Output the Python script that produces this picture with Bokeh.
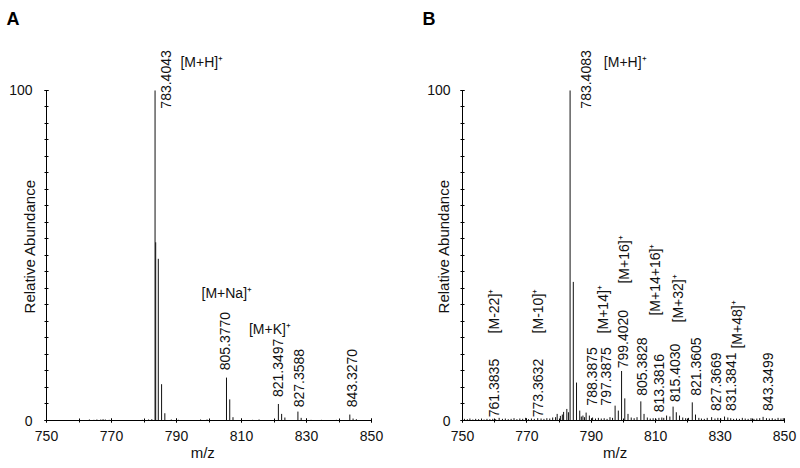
from math import pi
from bokeh.plotting import figure
from bokeh.models import Range1d, FixedTicker, ColumnDataSource
from bokeh.layouts import row
from bokeh.embed import file_html
from bokeh.resources import INLINE
from bokeh.core.properties import value

FONT = "Liberation Sans"
NB = "\u00a0"

# ---------------- Panel A data ----------------
a_peak_mz = [783.40, 783.60, 784.40, 785.41, 786.41,
             805.38, 806.38, 807.38,
             821.35, 822.35, 823.35,
             827.36, 828.36,
             843.33, 844.33, 845.33]
a_peak_int = [100, 54, 49, 11, 2.2,
              13, 6.4, 1.0,
              5.0, 2.0, 0.9,
              2.7, 0.8,
              1.8, 0.6, 0.4]
a_noise_mz = [763.2, 764.6, 765.5, 766.7, 767.4, 768.1, 769.3, 779.5, 781.4, 782.4,
              788.4, 790.6, 797.4, 799.4, 813.4, 815.4, 831.4, 834.6, 839.2]
a_noise_int = [0.3, 0.2, 0.3, 0.3, 0.4, 0.3, 0.2, 0.2, 0.3, 0.4,
               0.3, 0.2, 0.3, 0.3, 0.2, 0.3, 0.2, 0.2, 0.2]

a_num_text = ["783.4043", "805.3770", "821.3497", "827.3588", "843.3270"]
a_ion_text = ["[M+H]⁺", "[M+Na]⁺", "[M+K]⁺"]

# ---------------- Panel B data ----------------
b_peak_mz = [783.41, 784.41, 785.41, 786.41, 787.40,
             779.40, 780.40, 781.40, 782.40, 782.90,
             761.38, 773.36,
             788.39, 789.40,
             797.39, 798.39, 799.40, 800.40, 801.40,
             805.38, 806.38,
             813.38, 814.40, 815.40, 816.40, 817.40,
             821.36, 822.36,
             827.37, 831.38, 843.35]
b_peak_int = [100, 42, 11.5, 3.0, 1.5,
              2.0, 1.4, 2.6, 3.5, 2.5,
              0.8, 0.7,
              2.4, 1.5,
              4.5, 3.0, 15, 6.7, 2.0,
              5.8, 2.0,
              1.5, 1.2, 4.2, 2.5, 1.5,
              5.5, 1.8,
              1.0, 1.2, 1.1]
b_noise_mz = [750.6, 751.5, 752.3, 753.2, 754.1, 755.0, 755.9, 756.7, 757.6, 758.5,
              759.4, 760.3, 762.4, 763.3, 764.2, 765.1, 766.0, 766.9, 767.8, 768.7,
              769.6, 770.5, 771.4, 772.3, 774.4, 775.3, 776.2, 777.1, 778.0, 778.9,
              781.0, 786.9, 787.9, 790.4, 791.3, 792.2, 793.1, 794.0, 794.9, 795.8,
              796.6, 802.4, 803.3, 804.2, 807.4, 808.3, 809.2, 810.1, 811.0, 811.9,
              812.5, 818.4, 819.3, 820.2, 823.4, 824.2, 825.1, 826.0, 828.4, 829.3,
              830.2, 832.4, 833.3, 834.2, 835.1, 836.0, 836.9, 837.8, 838.7, 839.6,
              840.5, 841.4, 842.3, 844.4, 845.3, 846.2, 847.1, 848.0, 848.9, 849.6]
b_noise_int = [0.5, 0.4, 0.6, 0.3, 0.5, 0.4, 0.6, 0.3, 0.5, 0.4,
               0.5, 0.4, 0.5, 0.6, 0.4, 0.5, 0.7, 0.4, 0.6, 0.5,
               0.8, 0.4, 0.6, 0.5, 0.6, 0.5, 0.7, 0.6, 0.9, 1.0,
               1.8, 1.2, 1.0, 0.9, 0.6, 0.8, 0.6, 0.7, 0.5, 1.0,
               0.8, 0.9, 0.7, 1.0, 0.9, 0.6, 0.7, 0.5, 0.8, 0.9,
               0.8, 0.9, 0.7, 0.8, 0.8, 0.6, 0.5, 0.8, 0.6, 0.8,
               0.6, 0.9, 0.7, 0.5, 0.6, 0.5, 0.8, 0.6, 0.5, 0.7,
               0.5, 0.6, 0.7, 0.7, 0.6, 0.7, 0.5, 0.8, 0.6, 0.7]

b_num_text = ["783.4083", "761.3835", "773.3632", "788.3875", "797.3875",
              "799.4020", "805.3828", "813.3816", "815.4030", "821.3605",
              "827.3669", "831.3841", "843.3499"]
b_ion_text = ["[M+H]⁺", "[M-22]⁺", "[M-10]⁺", "[M+14]⁺", "[M+16]⁺",
              "[M+14+16]⁺", "[M+32]⁺", "[M+48]⁺"]

x_ticks = [750, 770, 790, 810, 830, 850]
x_minor = [750, 760, 770, 780, 790, 800, 810, 820, 830, 840, 850]
y_ticks = [0, 100]
y_minor = [0, 5, 10, 15, 20, 25, 30, 35, 40, 45, 50, 55, 60, 65, 70, 75, 80, 85, 90, 95, 100]

# ---------------- label placement (annotation layout, data units) ----------------
a_num_x = [786.9, 804.9, 821.1, 827.6, 844.1]
a_num_y = [94.5, 15.2, 7.1, 4.0, 4.0]
a_ion_x = [791.2, 797.7, 812.3]
a_ion_y = [108.5, 38.5, 27.8]
a_ion_ang = [0, 0, 0]

b_num_x = [788.2, 759.7, 773.5, 790.1, 794.7, 799.7, 805.8, 811.0, 816.0, 822.4, 828.6, 833.4, 845.0]
b_num_y = [94.5, 1.0, 1.0, 4.5, 4.5, 15.8, 7.5, 2.5, 5.6, 7.5, 2.9, 2.9, 2.9]
b_ion_x = [793.9, 759.9, 773.6, 793.5, 800.0, 809.9, 816.8, 835.4]
b_ion_y = [108.5, 26.4, 26.4, 26.4, 41.5, 31.8, 29.7, 21.8]
b_ion_ang = [0, 90, 90, 90, 90, 90, 90, 90]


def make_panel(letter, title_off, peak_mz, peak_int, noise_mz, noise_int,
               num_text, num_x, num_y, ion_text, ion_x, ion_y, ion_ang,
               bl, br, tick_standoff, ylab_standoff, xlab_pad):
    p = figure(width=400, height=468, x_range=Range1d(750, 850), y_range=Range1d(0, 118.18),
               output_backend="svg", toolbar_location=None,
               min_border_left=bl, min_border_right=br, min_border_top=30, min_border_bottom=48)
    p.outline_line_color = None
    p.grid.visible = False
    p.background_fill_color = "white"
    p.border_fill_color = "white"

    p.title.text = letter
    p.title.align = "left"
    p.title.offset = title_off
    p.title.standoff = 3
    p.title.text_font = FONT
    p.title.text_font_size = "18px"
    p.title.text_font_style = "bold"
    p.title.text_color = "black"

    mz = list(noise_mz) + list(peak_mz)
    it = list(noise_int) + list(peak_int)
    src = ColumnDataSource(dict(x=mz, y0=[0] * len(mz), y1=it))
    p.segment(x0="x", y0="y0", x1="x", y1="y1", source=src, line_color="#111111", line_width=1)

    nsrc = ColumnDataSource(dict(x=num_x, y=num_y, t=num_text))
    p.text(x="x", y="y", text="t", source=nsrc, angle=pi / 2, text_align="left",
           text_baseline="middle", text_font=value(FONT), text_font_size="14px", text_color="#111111")
    isrc = ColumnDataSource(dict(x=ion_x, y=ion_y, t=ion_text, a=[v * pi / 180 for v in ion_ang]))
    p.text(x="x", y="y", text="t", source=isrc, angle="a", text_align="left",
           text_baseline="middle", text_font=value(FONT), text_font_size="14px", text_color="#111111")

    for ax in (p.xaxis[0], p.yaxis[0]):
        ax.axis_line_color = "black"
        ax.major_tick_line_color = "black"
        ax.minor_tick_line_color = "black"
        ax.major_tick_in = 2
        ax.major_tick_out = 2
        ax.minor_tick_in = 2
        ax.minor_tick_out = 2
        ax.major_label_text_font = FONT
        ax.major_label_text_font_size = "14px"
        ax.major_label_text_color = "#111111"
        ax.axis_label_text_font = FONT
        ax.axis_label_text_font_size = "15px"
        ax.axis_label_text_font_style = "normal"
        ax.axis_label_text_color = "#111111"
    p.xaxis.ticker = FixedTicker(ticks=x_ticks, minor_ticks=x_minor)
    p.xaxis.bounds = (750, 850)
    p.xaxis.major_label_standoff = 8
    p.xaxis.axis_label = "m/z" + NB * xlab_pad
    p.xaxis.axis_label_standoff = 0
    p.yaxis.ticker = FixedTicker(ticks=y_ticks, minor_ticks=y_minor)
    p.yaxis.bounds = (0, 100)
    p.yaxis.major_label_standoff = tick_standoff
    p.yaxis.axis_label = "Relative Abundance" + NB * 10
    p.yaxis.axis_label_standoff = ylab_standoff
    return p


pa = make_panel("A", -40, a_peak_mz, a_peak_int, a_noise_mz, a_noise_int,
                a_num_text, a_num_x, a_num_y, a_ion_text, a_ion_x, a_ion_y, a_ion_ang,
                46, 29, 12, -32, 3)
pb = make_panel("B", -40, b_peak_mz, b_peak_int, b_noise_mz, b_noise_int,
                b_num_text, b_num_x, b_num_y, b_ion_text, b_ion_x, b_ion_y, b_ion_ang,
                62, 16, 10, -28, 4)

layout = row(pa, pb)
open("out.html", "w").write(file_html(layout, INLINE))
